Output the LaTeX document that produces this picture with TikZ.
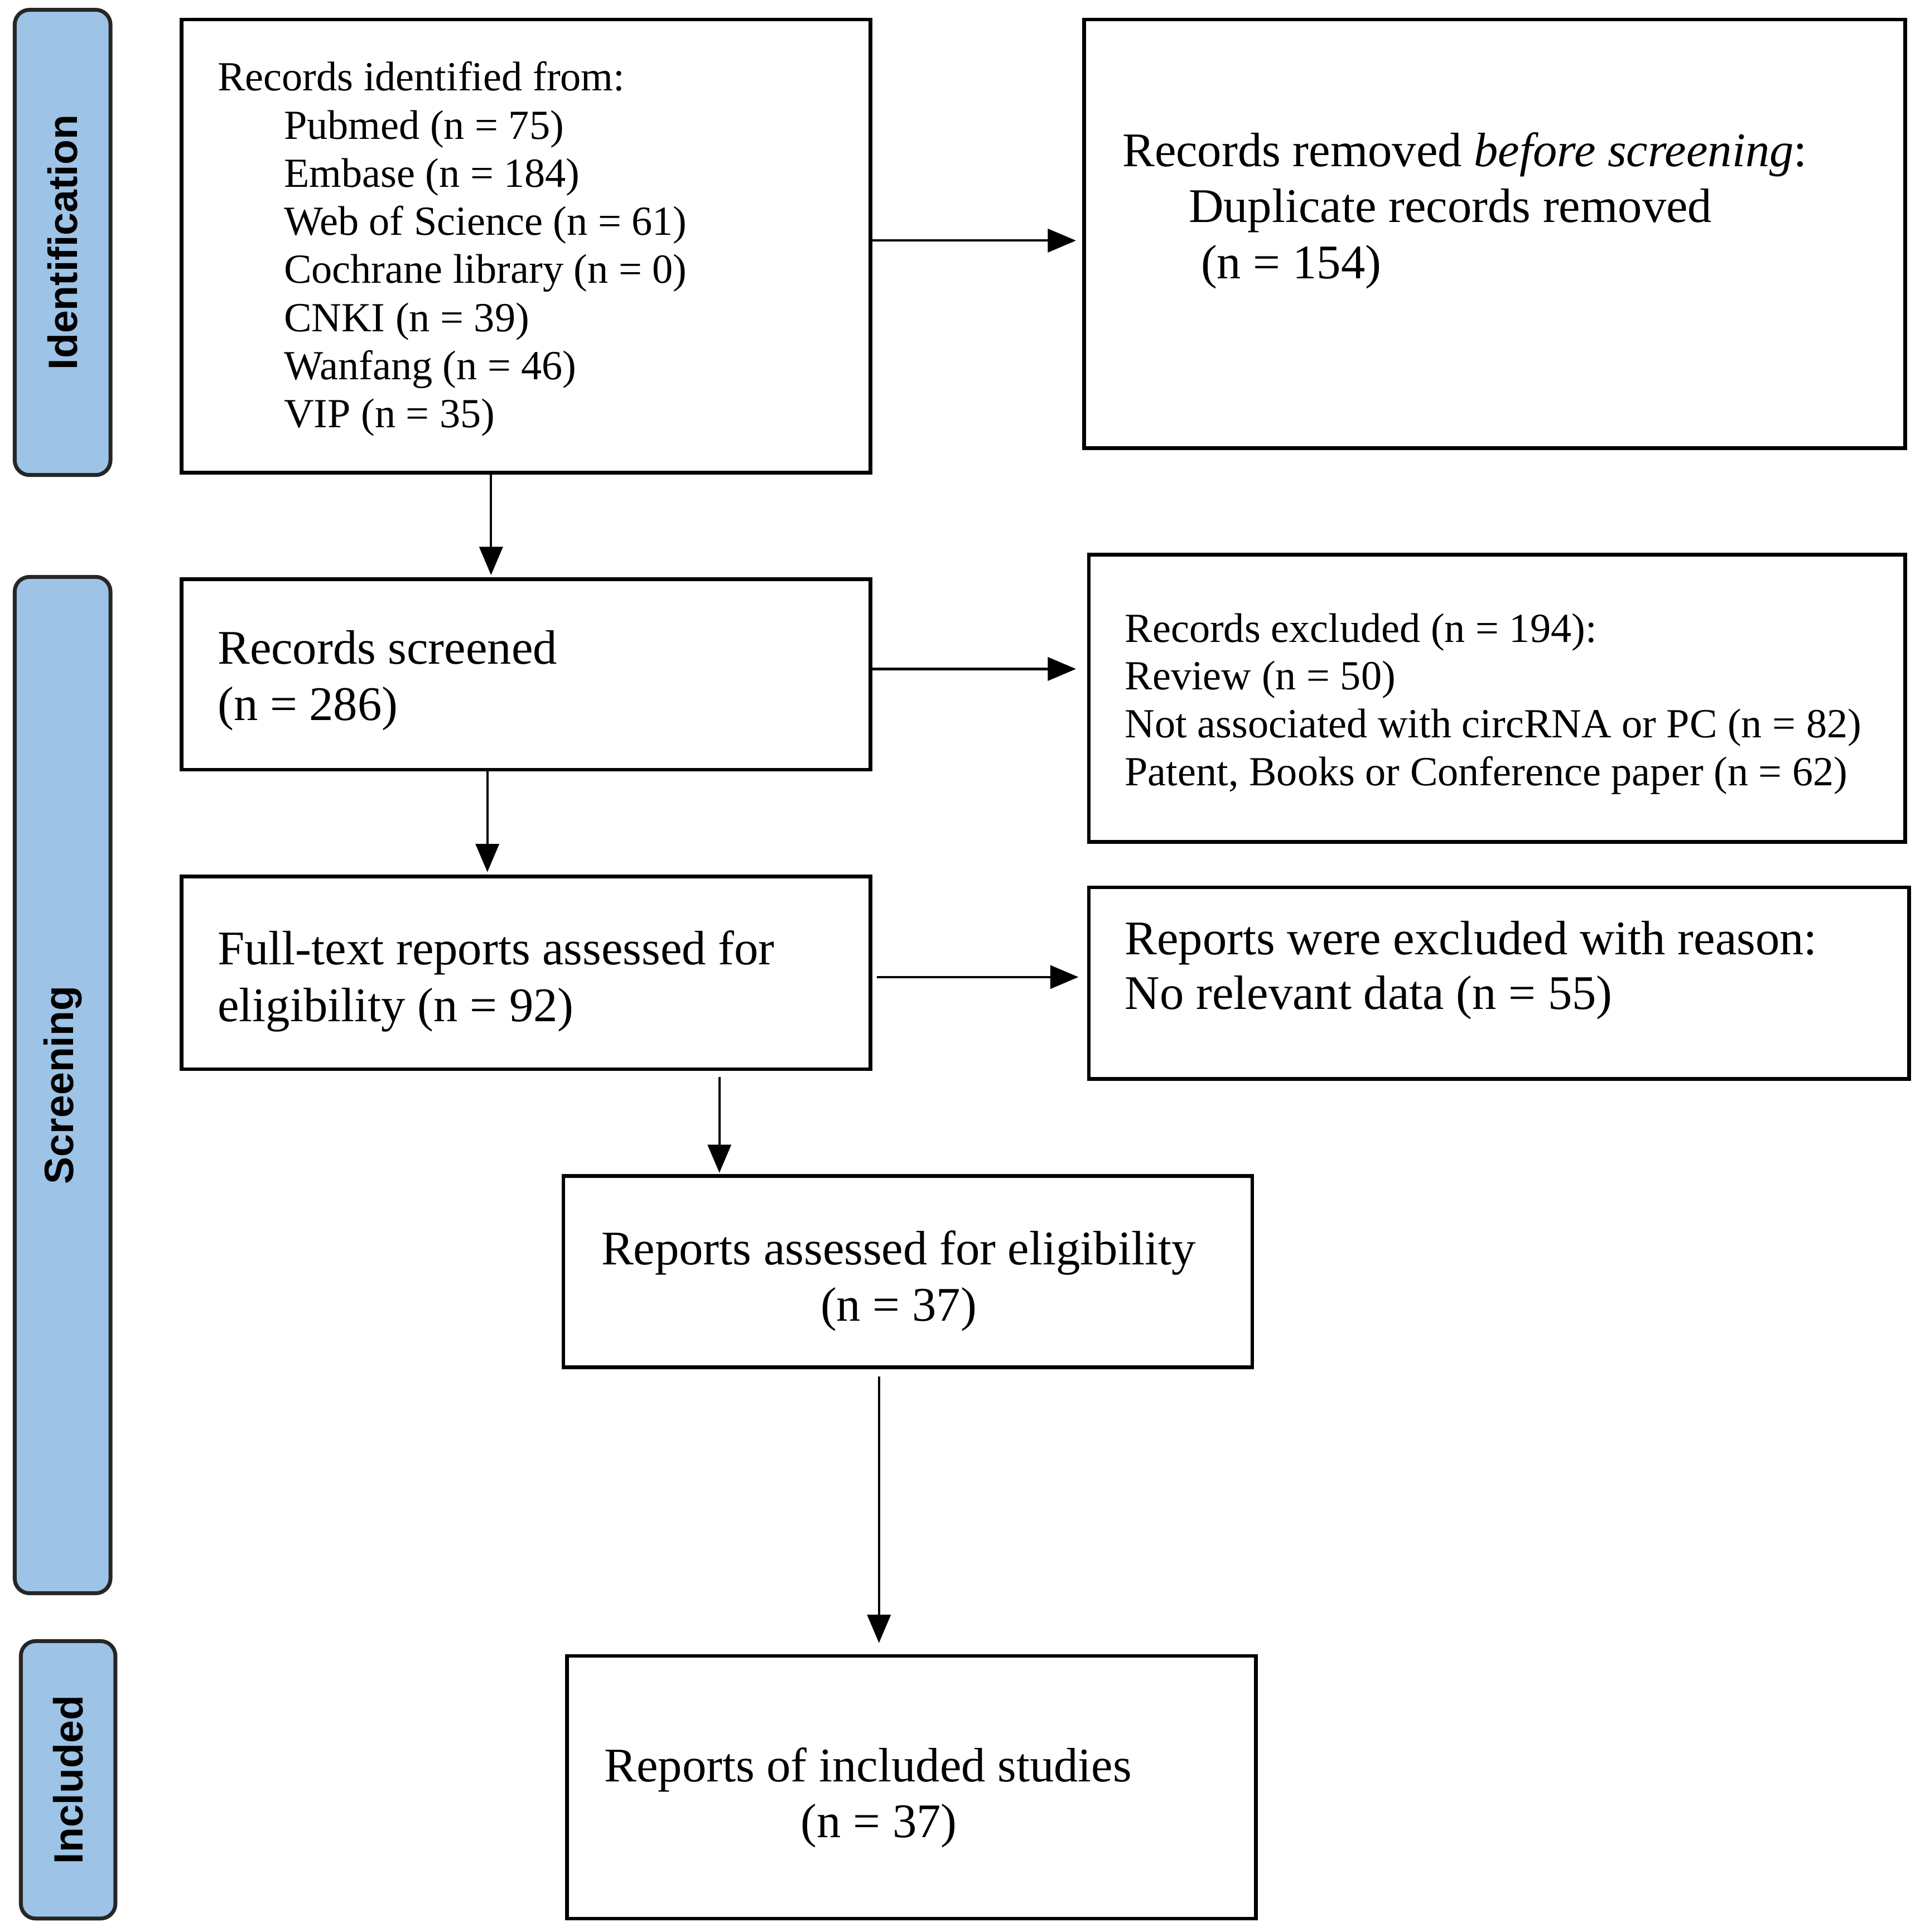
\documentclass[tikz,border=0pt]{standalone}
\usepackage{fontspec}
\setmainfont{Liberation Serif}
\newfontfamily\sidefont{Liberation Sans}
\usetikzlibrary{arrows.meta}
\definecolor{barblue}{RGB}{157,195,230}
\begin{document}
\begin{tikzpicture}[x=0.02cm,y=-0.02cm,
 box/.style 2 args={draw=black, line width=1.7pt, minimum width=#1*0.02cm, minimum height=#2*0.02cm, inner sep=0pt},
 bar/.style 2 args={draw=black!85, line width=1.8pt, fill=barblue, rounded corners=0.24cm, minimum width=#1*0.02cm, minimum height=#2*0.02cm, inner sep=0pt},
 sidelabel/.style={rotate=90, inner sep=0pt, font=\sidefont\bfseries\fontsize{19}{22}\selectfont},
 big/.style={anchor=base west, inner sep=0pt, font=\fontsize{22.4}{26}\selectfont},
 bigc/.style={anchor=base, inner sep=0pt, font=\fontsize{22.4}{26}\selectfont},
 small/.style={anchor=base west, inner sep=0pt, font=\fontsize{19.2}{22.3}\selectfont},
 arr/.style={line width=1.1pt, -{Triangle[length=0.46cm,width=0.38cm]}}
]
\useasboundingbox (0,0) rectangle (1568,1574);

% side bars
\node[bar={78}{379}] (s1) at (51,197.5) {};
\node[sidelabel] (s1t) at (s1.center) {Identification};
\node[bar={78}{828}] (s2) at (51,884) {};
\node[sidelabel] (s2t) at (s2.center) {Screening};
\node[bar={77}{226}] (s3) at (55.5,1450) {};
\node[sidelabel] (s3t) at (s3.center) {Included};

% boxes
\node[box={561}{369}] (b1) at (428.5,200.5) {};
\node[box={669}{349}] (b2) at (1217.5,190.5) {};
\node[box={561}{155}] (b3) at (428.5,549.5) {};
\node[box={665}{234}] (b4) at (1219.5,569) {};
\node[box={561}{157}] (b5) at (428.5,792.5) {};
\node[box={668}{156}] (b6) at (1221,801) {};
\node[box={561}{156}] (b7) at (739.5,1036) {};
\node[box={561}{214}] (b8) at (742.5,1456) {};

% box 1 text
\node[small] (t1a) at (177,74) {Records identified from:};
\node[small] (t1b) at (231,113.2) {Pubmed (n = 75)};
\node[small] (t1c) at (231,152.4) {Embase (n = 184)};
\node[small] (t1d) at (231,191.6) {Web of Science (n = 61)};
\node[small] (t1e) at (231,230.8) {Cochrane library (n = 0)};
\node[small] (t1f) at (231,270) {CNKI (n = 39)};
\node[small] (t1g) at (231,309.2) {Wanfang (n = 46)};
\node[small] (t1h) at (231,348.4) {VIP (n = 35)};

% box 2 text
\node[big] (t2a) at (914,135.6) {Records removed \textit{before screening}:};
\node[big] (t2b) at (968,181.3) {Duplicate records removed};
\node[big] (t2c) at (978,227) {(n = 154)};

% box 3 text
\node[big] (t3a) at (177,541) {Records screened};
\node[big] (t3b) at (177,587) {(n = 286)};

% box 4 text
\node[small] (t4a) at (916,523) {Records excluded (n = 194):};
\node[small] (t4b) at (916,562) {Review (n = 50)};
\node[small] (t4c) at (916,601) {Not associated with circRNA or PC (n = 82)};
\node[small] (t4d) at (916,640) {Patent, Books or Conference paper (n = 62)};

% box 5 text
\node[big] (t5a) at (177,786) {Full-text reports assessed for};
\node[big] (t5b) at (177,832) {eligibility (n = 92)};

% box 6 text
\node[big] (t6a) at (916,777.5) {Reports were excluded with reason:};
\node[big] (t6b) at (916,822) {No relevant data (n = 55)};

% box 7 text
\node[bigc] (t7a) at (732,1030.5) {Reports assessed for eligibility};
\node[bigc] (t7b) at (732,1076) {(n = 37)};

% box 8 text
\node[big] (t8a) at (492,1451.5) {Reports of included studies};
\node[bigc] (t8b) at (716,1497) {(n = 37)};

% connectors
\draw[arr, shorten >=0.1cm] (b1.east |- 0,196) -- (b2.west |- 0,196);
\draw[arr, shorten >=0.04cm] (b1.south -| 400,0) -- (b3.north -| 400,0);
\draw[arr, shorten >=0.18cm] (b3.east |- 0,545) -- (b4.west |- 0,545);
\draw[arr, shorten >=0.04cm] (b3.south -| 397,0) -- (b5.north -| 397,0);
\draw[arr, shorten <=0.08cm, shorten >=0.14cm] (b5.east |- 0,796) -- (b6.west |- 0,796);
\draw[arr, shorten <=0.1cm, shorten >=0.02cm] (b5.south -| 586,0) -- (b7.north -| 586,0);
\draw[arr, shorten <=0.12cm, shorten >=0.18cm] (b7.south -| 716,0) -- (b8.north -| 716,0);
\end{tikzpicture}
\end{document}
